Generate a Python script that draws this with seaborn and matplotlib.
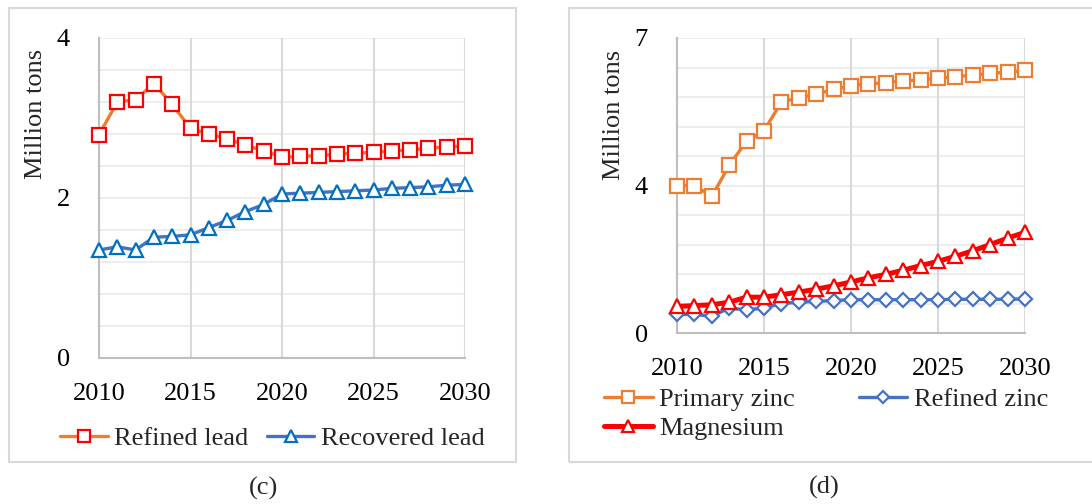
import numpy as np
import pandas as pd
import matplotlib
matplotlib.use("Agg")
import matplotlib.pyplot as plt
from matplotlib.patches import Rectangle
import seaborn as sns

years = list(range(2010, 2031))

refined_lead = [2.79, 3.20, 3.23, 3.43, 3.17, 2.87, 2.80, 2.74, 2.66, 2.59, 2.51,
                2.52, 2.53, 2.55, 2.56, 2.57, 2.59, 2.60, 2.62, 2.64, 2.65]
recovered_lead = [1.35, 1.39, 1.35, 1.51, 1.52, 1.54, 1.63, 1.72, 1.83, 1.92, 2.05,
                  2.06, 2.07, 2.08, 2.09, 2.10, 2.12, 2.13, 2.14, 2.16, 2.17]

primary_zinc = [3.50, 3.50, 3.24, 3.98, 4.55, 4.80, 5.48, 5.58, 5.67, 5.78, 5.87,
                5.91, 5.94, 5.98, 6.01, 6.04, 6.08, 6.12, 6.16, 6.19, 6.23]
refined_zinc = [0.44, 0.44, 0.40, 0.59, 0.55, 0.59, 0.70, 0.73, 0.75, 0.77, 0.79,
                0.79, 0.79, 0.79, 0.79, 0.79, 0.80, 0.80, 0.80, 0.80, 0.81]
magnesium = [0.63, 0.65, 0.67, 0.73, 0.85, 0.85, 0.91, 0.97, 1.04, 1.12, 1.21,
             1.31, 1.39, 1.49, 1.60, 1.70, 1.82, 1.95, 2.10, 2.25, 2.39]

c_ticks = [0, 2, 4]
c_ticklabels = ["0", "2", "4"]
d_ticks = [0, 3.5, 7]
d_ticklabels = ["0", "4", "7"]
x_ticks = [2010, 2015, 2020, 2025, 2030]

sns.set_theme(style="white")
plt.rcParams['font.family'] = ['Liberation Serif', 'DejaVu Serif']
plt.rcParams['mathtext.fontset'] = 'stix'

FS = 19
ORANGE = "#ED7D31"
BLUE = "#4472C4"
RED = "#FF0000"
BLUE2 = "#0070C0"

W, H = 1092, 504
fig = plt.figure(figsize=(W / 100, H / 100), dpi=100)

# panel frames
fig.patches.append(Rectangle((9 / W, 1 - 462 / H), 507 / W, 454 / H, transform=fig.transFigure,
                             fill=False, edgecolor="#D9D9D9", linewidth=1.5, zorder=0))
fig.patches.append(Rectangle((569 / W, 1 - 462 / H), 540 / W, 454 / H, transform=fig.transFigure,
                             fill=False, edgecolor="#D9D9D9", linewidth=1.5, zorder=0))


def make_axes(x0, x1, ytop, ybot):
    return fig.add_axes([x0 / W, 1 - ybot / H, (x1 - x0) / W, (ybot - ytop) / H])


def style_axes(ax, ymax, minor_step, ticks, labels, lab_xy):
    ax.set_xlim(2010, 2030)
    ax.set_ylim(0, ymax)
    for v in np.arange(minor_step, ymax + 1e-9, minor_step):
        ax.axhline(v, color="#EDEDED", linewidth=1.5, zorder=0)
    for xv in x_ticks[1:]:
        ax.axvline(xv, color="#D9D9D9", linewidth=1.5, zorder=0)
    ax.set_xticks(x_ticks)
    ax.set_xticklabels([str(x) for x in x_ticks], fontsize=FS)
    ax.set_yticks(ticks)
    ax.set_yticklabels(labels, fontsize=FS)
    ax.tick_params(axis="both", length=0, colors="black")
    ax.tick_params(axis="x", pad=18)
    ax.tick_params(axis="y", pad=21)
    for s in ["top", "right"]:
        ax.spines[s].set_visible(False)
    for s in ["left", "bottom"]:
        ax.spines[s].set_color("#BFBFBF")
        ax.spines[s].set_linewidth(1.5)
    ax.set_ylabel("Million tons", fontsize=FS, va="center")
    ax.yaxis.set_label_coords(*lab_xy)
    ax.grid(False)


def series(ax, y, label, lc, mk, mec, ms, lw):
    df = pd.DataFrame({"year": years, "value": y})
    sns.lineplot(data=df, x="year", y="value", ax=ax, color=lc, linewidth=lw,
                 marker=mk, markersize=ms, markerfacecolor="white",
                 markeredgecolor=mec, markeredgewidth=1.6, label=label,
                 clip_on=False, zorder=3, legend=False)


# ---- panel (c)
axc = make_axes(99, 465, 38, 358)
style_axes(axc, 4, 0.4, c_ticks, c_ticklabels, (-0.172, 0.7625))
series(axc, refined_lead, "Refined lead", ORANGE, "s", RED, 10, 2.4)
series(axc, recovered_lead, "Recovered lead", BLUE, "^", BLUE2, 10, 2.4)
axc.set_xlabel("")
h, l = axc.get_legend_handles_labels()
fig.legend(h, l, loc="center left", bbox_to_anchor=(60 / W, 1 - 438 / H), ncol=2,
           frameon=False, fontsize=FS, handlelength=1.8, handletextpad=0.25,
           columnspacing=0.7, borderpad=0, borderaxespad=0, markerscale=0.8)

# ---- panel (d)
axd = make_axes(677, 1025, 38, 333)
style_axes(axd, 7, 0.7, d_ticks, d_ticklabels, (-0.181, 0.7407))
series(axd, primary_zinc, "Primary zinc", ORANGE, "s", ORANGE, 10, 2.4)
series(axd, refined_zinc, "Refined zinc", BLUE, "D", BLUE, 7.5, 2.4)
series(axd, magnesium, "Magnesium", RED, "^", RED, 10, 3.6)
axd.set_xlabel("")
h, l = axd.get_legend_handles_labels()
order = [0, 2, 1]  # column-wise fill: Primary/Magnesium | Refined zinc
fig.legend([h[i] for i in order], [l[i] for i in order], loc="center left",
           bbox_to_anchor=(604 / W, 1 - 414 / H), ncol=2,
           frameon=False, fontsize=FS, handlelength=1.85, handletextpad=0.25,
           columnspacing=2.4, labelspacing=0.2, borderpad=0, borderaxespad=0,
           markerscale=0.8)

fig.text(263 / W, 1 - 488 / H, "(c)", fontsize=FS, ha="center", va="center")
fig.text(824 / W, 1 - 487 / H, "(d)", fontsize=FS, ha="center", va="center")

fig.savefig("out.png", dpi=100)
